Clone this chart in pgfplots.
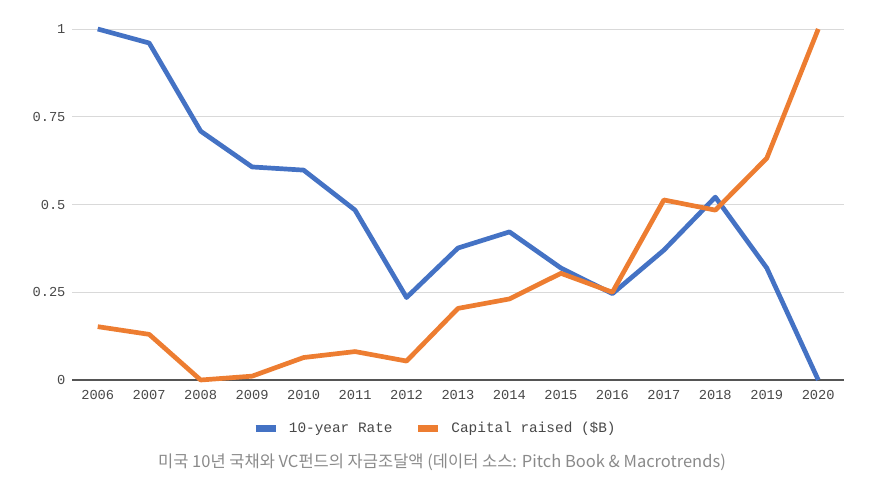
\documentclass[border=0pt]{standalone}
\usepackage{pgfplots}
\pgfplotsset{compat=1.18}
\usepackage{fontspec}
\newfontfamily\monofont{Liberation Mono}
\newfontfamily\cjk{Noto Sans CJK KR}
\definecolor{cblue}{HTML}{4472C4}
\definecolor{corange}{HTML}{ED7D31}
\definecolor{gridc}{HTML}{D9D9D9}
\definecolor{axc}{HTML}{555555}
\definecolor{tickc}{HTML}{484848}
\definecolor{capc}{HTML}{8A8A8A}
\begin{document}
\begin{tikzpicture}
\path[use as bounding box] (0pt,0pt) rectangle (871pt,-499pt);
\begin{axis}[
  at={(72pt,-380pt)}, anchor=south west,
  scale only axis, width=772pt, height=351pt,
  xmin=2005.5, xmax=2020.5, ymin=0, ymax=1,
  clip=false,
  axis line style={draw=none},
  major tick length=0pt,
  xtick={2006,...,2020},
  xticklabel style={/pgf/number format/1000 sep={}, yshift=-7pt},
  ytick={0.25,0.5,0.75,1},
  yticklabels={0.25,0.5,0.75,1},
  extra y ticks={0}, extra y tick labels={0},
  extra y tick style={grid style={draw=axc, line width=1.6pt}},
  ymajorgrids,
  grid style={draw=gridc, line width=1pt},
  yticklabel style={xshift=-3pt},
  tick label style={font=\monofont\fontsize{13.7}{14}\selectfont, text=tickc},
  /pgf/number format/assume math mode=true,
  legend columns=2,
  legend style={at={(0.470,-0.137)}, anchor=center, draw=none, fill=none,
    font=\monofont\fontsize{14.4}{15}\selectfont, text=tickc,
    /tikz/every even column/.append style={column sep=20pt}},
  legend image code/.code={\draw[line width=7pt] (0pt,0pt) -- (20pt,0pt); \path (29pt,0pt);},
]
\addplot[cblue, line width=4.7pt, line join=round] coordinates {
(2006,1.000) (2007,0.960) (2008,0.709) (2009,0.607) (2010,0.598) (2011,0.484)
(2012,0.235) (2013,0.376) (2014,0.422) (2015,0.319) (2016,0.246) (2017,0.370)
(2018,0.521) (2019,0.319) (2020,0.000)};
\addlegendentry{10-year Rate}
\addplot[corange, line width=4.7pt, line join=round] coordinates {
(2006,0.152) (2007,0.130) (2008,0.000) (2009,0.011) (2010,0.064) (2011,0.081)
(2012,0.054) (2013,0.204) (2014,0.231) (2015,0.304) (2016,0.250) (2017,0.513)
(2018,0.484) (2019,0.632) (2020,1.000)};
\addlegendentry{Capital raised (\$B)}
\end{axis}
\node[text=capc, font=\cjk\fontsize{16.5}{18}\selectfont, anchor=center] at (442pt,-462pt) {미국 10년 국채와 VC펀드의 자금조달액 (데이터 소스: Pitch Book \& Macrotrends)};
\end{tikzpicture}
\end{document}
